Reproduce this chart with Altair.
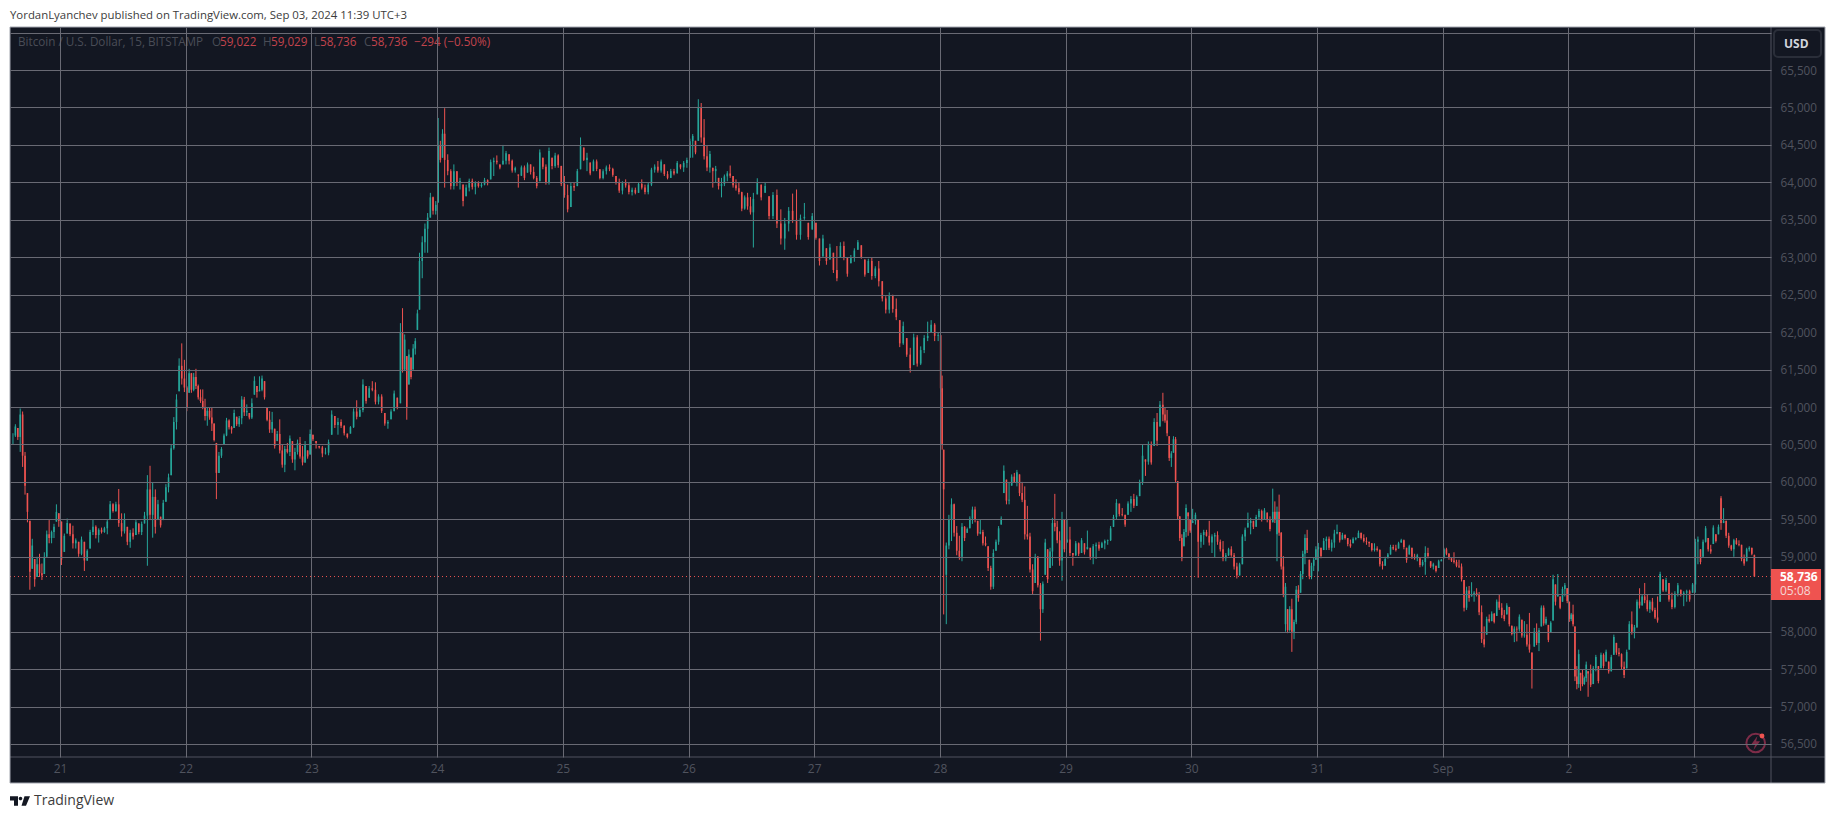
import altair as alt
import pandas as pd

# Each row is (high, low, close) or (high, low, close, open) when the open is not the previous close.
aug20 = [(60650,60500,60620),(60770,60600,60740),(60720,60560,60600),(60980,60400,60900),(60940,60200,60350),(60400,59830,59950),(59850,59460,59600),(59480,58560,58800),(59240,58840,59150),(58970,58600,58700),(59000,58730,58900),(59040,58730,58780),(58910,58690,58750),(59060,58770,59000),(59350,59000,59300),(59490,59180,59250),(59350,59180,59330),(59440,59250,59400),(59700,59470,59600),(59580,59400,59480)]
aug21 = [(59470,58890,58960),(59310,59065,59280),(59510,59310,59450),(59445,59275,59300),(59415,59110,59180),(59245,59110,59220),(59200,59000,59040),(59270,59020,59230),(59200,58810,58950),(59100,58945,59080),(59360,59110,59330),(59500,59290,59400),(59420,59245,59290),(59380,59190,59360),(59390,59310,59330),(59400,59320,59380),(59490,59300,59470),(59745,59490,59700),(59715,59590,59610),(59735,59600,59700),(59905,59400,59450),(59580,59270,59340),(59580,59310,59500),(59400,59155,59200),(59360,59120,59320),(59380,59230,59270),(59490,59290,59460),(59445,59300,59330),(59470,59290,59440),(59600,59445,59550),(60090,58880,59900),(60215,59490,59560),(59990,59255,59800),(59900,59310,59400),(59760,59490,59700),(59535,59390,59420),(59760,59490,59720),(59970,59735,59930),(60110,59860,60060),(60495,60090,60450),(60865,60430,60800),(61170,60700,61100),(61650,61210,61550),(61850,61300,61380),(61630,61200,61260)]
aug22 = [(61280,60945,61000),(61510,61190,61450),(61455,61190,61230),(61455,61210,61400),(61510,61240,61280),(61300,61100,61130),(61235,61055,61080),(61235,60970,61000),(61110,60820,60880),(60990,60750,60950),(60990,60830,60860),(61000,60680,60780),(60780,60540,60560),(60520,59770,60120),(60400,60120,60350),(60465,60320,60440),(60645,60500,60620),(60855,60610,60820),(60835,60700,60730),(60745,60645,60700),(60965,60720,60920),(60870,60745,60770),(60880,60735,60850),(61145,60770,61100),(61135,60880,60930),(61035,60880,60950),(60920,60835,60860),(61115,60840,61050),(61410,61165,61350),(61280,61125,61200),(61410,61210,61230),(61420,61210,61380),(61345,61100,61130),(61000,60810,60830),(60945,60655,60700),(60935,60655,60800),(60710,60445,60480),(60680,60545,60640),(60835,60380,60420),(60500,60190,60230),(60480,60130,60440),(60520,60380,60400),(60620,60345,60580),(60545,60255,60300),(60455,60155,60400),(60565,60365,60520),(60600,60310,60340),(60480,60220,60260),(60545,60255,60500),(60420,60310,60340),(60700,60365,60640)]
aug23 = [(60630,60545,60570),(60545,60445,60520),(60480,60445,60460),(60480,60330,60380),(60455,60365,60390),(60565,60355,60530),(60955,60630,60900),(60880,60720,60760),(60855,60630,60800),(60835,60720,60750),(60755,60620,60650),(60645,60580,60600),(60745,60645,60730),(60980,60720,60940),(61090,60835,60870),(60990,60870,60960),(61370,60930,61300),(61280,61045,61080),(61280,61125,61250),(61345,61210,61230),(61330,61035,61070),(61170,61035,61140),(61170,60920,60950),(60920,60750,60780),(60825,60710,60800),(60970,60835,60940),(61220,60945,61180),(61125,60970,61000),(62120,61050,62000),(62320,61460,61500),(61970,61480,61900),(61680,60830,61000),(61770,61300,61700),(61660,61370,61400),(61840,61500,61780),(61920,61700,61880),(62300,62030,62250),(63060,62300,62950),(63280,62720,63200),(63450,63060,63380),(63590,63060,63530),(63860,63530,63800),(63810,63570,63620),(63750,63570,63700)]
aug24 = [(64860,63730,64500),(64555,64265,64300),(64710,64330,64650),(64990,63930,64300),(64375,64095,64150),(64175,63905,63950),(64240,63905,64150),(64150,63950,63990),(64060,63905,64020),(63970,63680,63750),(63970,63815,63930),(64050,63880,64020),(64050,63905,63940),(64015,63840,63990),(64015,63930,63950),(63995,63930,63970),(64060,63960,64030),(64040,63960,63990),(64305,64040,64270),(64330,64085,64290),(64360,64240,64270),(64240,64175,64200),(64500,64240,64290),(64420,64240,64390),(64375,64240,64290),(64305,64130,64160),(64210,64130,64190),(64105,63930,64090),(64225,64085,64200),(64225,64030,64060),(64265,64130,64240),(64240,64105,64140),(64210,64040,64060),(64085,63920,63950),(64440,64015,64400),(64330,64175,64210),(64240,63970,64000),(64465,63970,64420),(64330,64175,64220),(64395,64195,64360),(64375,64195,64230),(64220,63950,63980)]
aug25 = [(64085,63795,63830),(63970,63600,63640),(63995,63670,63950),(63995,63885,63930),(64180,63950,64150),(64600,64175,64500),(64465,64285,64300),(64395,64150,64330),(64265,64095,64120),(64305,64150,64280),(64305,64150,64180),(64175,64040,64060),(64175,64040,64150),(64225,64105,64200),(64240,64150,64180),(64195,64075,64100),(64085,63970,64000),(64050,63860,63890),(64015,63840,63990),(64040,63930,63960),(63995,63840,63870),(63930,63825,63900),(63930,63840,63860),(64005,63860,63980),(64040,63905,63930),(63970,63840,63870),(63995,63840,63970),(64195,63950,64170),(64240,64130,64210),(64285,64130,64160),(64305,64130,64280),(64240,64085,64110),(64150,64040,64060),(64180,64060,64150),(64180,64095,64120),(64285,64120,64260),(64240,64175,64200),(64285,64140,64260),(64330,64195,64300)]
aug26 = [(64585,64330,64550),(64645,64330,64620),(64555,64375,64400),(65110,64555,65000),(65060,64530,64600),(64845,64305,64350),(64495,64150,64200),(64420,64130,64380),(64195,63930,64150),(64220,63995,64180),(64060,63905,63950),(64060,63800,63980),(64105,63950,64080),(64150,64015,64120),(64225,64060,64090),(64085,63930,63960),(64040,63890,63920),(63995,63840,63870),(63875,63615,63650),(63825,63635,63800),(63860,63635,63680),(63805,63570,63600),(63860,63130,63780),(64055,63840,64000),(63970,63760,63800),(64005,63860,63950),(63815,63505,63550),(63870,63510,63830),(63905,63390,63450),(63640,63170,63250),(63525,63100,63450),(63670,63345,63620),(63850,63460,63500),(63905,63235,63300),(63570,63235,63520),(63725,63500,63540),(63460,63235,63270),(63590,63370,63550)]
aug27 = [(63460,63235,63260),(63250,62890,62950),(63300,63010,63250),(63120,62900,62950),(63180,62970,63130),(63060,62790,62830),(63150,62680,62720),(63200,62990,63150),(63210,62960,63000),(62990,62740,62780),(63030,62920,62990),(63120,62940,63090),(63230,63100,63200),(63160,62980,63000),(62970,62740,62770),(62980,62790,62950),(63000,62700,62750),(62880,62720,62850),(62950,62610,62680),(62680,62410,62450),(62480,62250,62300),(62530,62250,62490),(62500,62260,62310),(62450,62160,62200),(62160,61800,61850),(62140,61830,62080),(61920,61670,61700),(61790,61460,61520),(61980,61560,61930),(61960,61540,61580),(61810,61560,61760),(61960,61720,61920),(62140,61880,61950),(62160,61990,62100),(62120,61880,61950),(61990,61880,61960)]
aug28 = [(61960,61200,61250),(61420,60430,60500),(60430,58230,59900),(59190,58100,59150,58760),(59560,59100,59500),(59780,59210,59700),(59710,59270,59320),(59410,59020,59080),(59280,58960,59000),(59450,58940,59400),(59410,59210,59250),(59390,59320,59370),(59540,59380,59510),(59670,59440,59630),(59670,59460,59500),(59480,59280,59310),(59500,59300,59330),(59360,59150,59180),(59270,59140,59160),(59140,58810,58850),(58880,58560,58600),(59100,58570,59050),(59230,59080,59200),(59410,59160,59380),(59540,59430,59510),(60220,59850,60150),(60030,59700,59750),(60000,59700,59760),(60100,59950,60070),(60120,59990,60000),(60160,59940,60130),(60100,59810,59850),(60000,59730,59760),(59940,59230,59300),(59680,59230,59270),(59320,58790,58830),(58900,58500,58540),(59040,58650,59000),(59010,58590,58620),(58650,57880,58300),(58670,58250,58640,58300),(59240,58760,59190),(59100,58650,58700),(59120,58850,59070),(59520,58880,59450),(59840,59340,59400),(59480,59180,59220),(59340,58880,58950),(59600,58680,59500),(59500,59060,59100)]
aug29 = [(59500,59190,59230),(59400,59010,59050),(59050,58880,59020),(59210,59010,59180),(59190,59010,59040),(59250,59050,59220),(59180,59030,59060),(59350,59100,59130),(59120,58960,59000),(59170,58900,59140),(59190,58970,59160),(59200,59080,59110),(59200,59120,59180),(59230,59100,59210),(59230,59160,59220),(59410,59210,59380),(59560,59400,59530),(59770,59500,59720),(59710,59540,59570),(59650,59540,59560),(59560,59400,59430),(59740,59560,59710),(59810,59600,59770),(59840,59650,59680),(59820,59680,59800),(60030,59810,60000),(60500,59960,60350),(60300,60080,60270),(60540,60230,60500),(60540,60230,60260),(60850,60480,60800),(60920,60480,60550),(61080,60740,61030),(61190,60810,60900),(61000,60790,60820),(60960,60610,60650),(60610,60280,60320),(60410,60200,60380),(60610,60390,60570),(60600,59990,60020),(60010,59500,59540),(59540,59210,59250),(59300,58940,58980),(59370,59140,59330),(59700,59260,59650),(59590,59280,59540),(59500,59320,59350)]
aug30 = [(59640,59450,59480),(59590,59430,59560),(59500,58720,59200),(59320,59120,59290),(59360,59160,59330),(59360,59270,59280),(59480,59150,59190),(59300,59050,59270),(59320,58990,59290),(59340,59160,59200),(59230,59070,59100),(59210,58940,58980),(59050,58940,59020),(59120,59010,59100),(59140,59000,59020),(59050,58830,58870),(58920,58710,58750),(58920,58750,58900),(59300,58900,59270),(59390,59210,59360),(59590,59390,59450),(59520,59300,59480),(59480,59370,59400),(59560,59400,59530),(59640,59500,59610),(59630,59470,59500),(59650,59500,59620),(59590,59460,59490),(59540,59340,59370),(59910,59460,59600),(59740,59450,59500),(59670,58940,59600,59300),(59830,59280,59320),(59330,58830,58870),(59010,58460,58500),(58650,58000,58600,58100),(58300,57980,58020),(58340,58000,58300),(58440,57730,58000),(58160,57900,58130),(58610,58100,58560),(58620,58400,58450),(58810,58520,58770),(59080,58700,59040),(59300,58900,59250),(59360,59050,59090),(58960,58700,58740),(58920,58700,58880),(58990,58810,58960),(59140,58960,59100)]
aug31 = [(59185,58805,59130),(59120,58980,59010),(59250,59090,59210),(59270,59090,59240),(59270,59090,59120),(59230,59070,59190),(59360,59120,59310),(59430,59300,59330),(59330,59190,59220),(59320,59230,59290),(59300,59230,59250),(59250,59140,59170),(59230,59120,59140),(59260,59180,59240),(59260,59220,59250),(59350,59250,59320),(59320,59230,59250),(59300,59190,59210),(59260,59160,59200),(59200,59130,59180),(59180,59070,59090),(59180,59070,59110),(59140,59070,59090),(59100,58870,58900),(58940,58830,58880),(59000,58880,58970),(59050,58980,59030),(59160,59030,59130),(59160,59090,59110),(59160,59070,59090),(59200,59110,59180),(59240,59190,59220),(59230,59100,59130),(59120,58920,58960),(59160,59030,59140),(59120,58970,59000),(59040,58960,58980),(59040,58940,59020),(58980,58860,58890),(58960,58870,58930),(59140,58760,59050),(59120,58980,59010),(58940,58850,58870),(58920,58830,58900),(58880,58790,58810),(58960,58850,58940),(58970,58940,58960)]
sep01 = [(59120,58980,59100),(59120,59020,59040),(59050,58960,58990),(58980,58930,58950),(59060,58910,58930),(58960,58860,58880),(58960,58850,58870),(58910,58670,58700),(58690,58270,58320),(58600,58290,58550),(58610,58400,58450),(58660,58470,58500),(58540,58400,58520),(58580,58470,58490),(58530,58220,58260),(58350,57850,57900),(58070,57790,57830),(58200,57960,58170),(58230,58120,58140),(58270,58140,58240),(58250,58110,58130),(58430,58210,58400),(58490,58290,58320),(58380,58180,58220),(58290,58140,58170),(58380,58230,58350),(58330,58070,58100),(58080,57950,57970),(58070,57860,58040),(58070,57870,58030),(58230,58000,58200),(58160,57920,57950),(58140,57920,57960),(58100,57800,57830),(58250,57720,57760),(57720,57240,57500),(58050,57800,58000),(58110,57820,57850),(58050,57740,58020),(58350,58070,58320),(58350,58080,58110),(58200,58090,58170),(58090,57860,57890),(58140,57990,58120),(58760,58150,58700),(58630,58350,58400),(58770,58470,58500),(58470,58300,58320),(58600,58400,58570),(58650,58470,58620),(58580,58380,58410)]
sep02 = [(58400,58130,58170),(58250,58140,58230),(58360,58070,58100),(58070,57340,57400),(57540,57230,57300),(57760,57250,57700),(57450,57210,57420),(57490,57270,57300),(57400,57290,57380),(57600,57330,57560),(57470,57130,57440),(57560,57260,57290),(57540,57300,57510),(57690,57470,57660),(57540,57310,57340),(57720,57510,57690),(57710,57510,57540),(57760,57600,57730),(57600,57440,57470),(57690,57470,57660),(57960,57690,57930),(57850,57690,57720),(57780,57670,57700),(57710,57490,57530),(57600,57380,57420),(57760,57510,57730),(58140,57760,58100),(58270,57960,58000),(58090,57910,58060),(58430,58050,58400),(58580,58310,58350),(58490,58350,58470),(58650,58380,58420),(58490,58270,58300),(58420,58250,58400),(58450,58270,58290),(58320,58170,58190),(58470,58120,58150),(58800,58400,58770),(58700,58530,58550),(58720,58530,58690),(58650,58400,58430),(58520,58300,58330),(58540,58310,58510),(58650,58470,58620),(58560,58470,58490),(58540,58340,58520),(58560,58400,58540),(58560,58400,58430),(58650,58520,58630)]
sep03 = [(59240,58520,59200),(59270,58900,59230),(59100,58900,58930),(59230,59000,59200),(59410,59190,59380),(59250,59070,59100),(59160,59040,59070),(59420,59170,59390),(59300,59190,59210),(59430,59300,59400),(59810,59360,59450,59780),(59650,59450,59480),(59480,59250,59280),(59320,59120,59150),(59160,59080,59100),(59240,59000,59220),(59250,59160,59170),(59220,59140,59160),(59160,58940,58970),(59030,58880,58910),(59120,58940,59100),(59140,59070,59120),(59120,59020,59040),(59029,58736,58736,59022)]

sessions = [
    (20.616, 0.384, aug20, {}),
    (21, 1, aug21, {30: .695}),
    (22, 1, aug22, {13: .244}),
    (23, 1, aug23, {28: .708, 37: .86}),
    (24, 1, aug24, {3: .06}),
    (25, 1, aug25, {}),
    (26, 1, aug26, {3: .078, 22: .516}),
    (27, 1, aug27, {}),
    (28, 1, aug28, {2: .03, 39: .80}),
    (29, 1, aug29, {33: .774, 39: .875}),
    (30, 1, aug30, {29: .648, 38: .80}),
    (31, 1, aug31, {}),
    (32, 1, sep01, {35: .71}),
    (33, 1, sep02, {10: .157, 38: .73}),
    (34, 0.49, sep03, {}),
]

day_ticks = list(range(21, 35))
day_labels = ["21","22","23","24","25","26","27","28","29","30","31","Sep","2","3"]
price_ticks = list(range(56500, 66500, 500))
last_price = 58736

title_text = "YordanLyanchev published on TradingView.com, Sep 03, 2024 11:39 UTC+3"
symbol_text = "Bitcoin / U.S. Dollar, 15, BITSTAMP"
ohlc_text = [("O","59,022"),("H","59,029"),("L","58,736"),("C","58,736")]
change_text = "\u2212294 (\u22120.50%)"
tag_price = "58,736"
tag_time = "05:08"

TEAL, RED = "#26a69a", "#ef5350"
BG = "#131722"
GRID = "#696a74"
DIM = "#50535e"
FONT = "Open Sans"
W, H = 1761, 730
OX, OY = 10, 27

def bar_times(start, span, n, anchors):
    knots = [(-0.5, 0.0)] + sorted(anchors.items()) + [(n - 0.5, span)]
    out = []
    for i in range(n):
        for (a, fa), (b, fb) in zip(knots, knots[1:]):
            if a <= i <= b:
                out.append(start + fa + (i - a) * (fb - fa) / (b - a))
                break
    return out

rows, prev = [], None
for start, span, bars, anchors in sessions:
    for t, r in zip(bar_times(start, span, len(bars), anchors), bars):
        hi, lo, cl = r[:3]
        op = r[3] if len(r) > 3 else (cl if prev is None else min(max(prev, lo), hi))
        rows.append(dict(t=t, high=hi, low=lo, open=op, close=cl, dir="up" if cl >= op else "down"))
        prev = cl
df = pd.DataFrame(rows)

x_enc = alt.X("t:Q", title=None,
              scale=alt.Scale(domain=[20.602, 34.612], nice=False, zero=False),
              axis=alt.Axis(values=day_ticks, labelExpr="[" + ",".join(f"'{s}'" for s in day_labels) + "][datum.value-21]",
                            grid=True, gridColor=GRID, gridWidth=1, domain=False, ticks=False,
                            labelColor=DIM, labelFontSize=12, labelFont=FONT, labelPadding=6,
                            labelFlush=False, labelOverlap=False, zindex=1))
y_scale = alt.Scale(domain=[56326, 66075], nice=False, zero=False)
y_axis = alt.Axis(values=price_ticks, orient="right",
                  labelExpr="(datum.value>65500||datum.value==58500)?'':format(datum.value,',')",
                  grid=True, gridColor=GRID, gridWidth=1, domain=False, ticks=False,
                  labelColor=DIM, labelFontSize=11.7, labelFont=FONT, labelPadding=9,
                  labelOverlap=False, zindex=1)
color_enc = alt.Color("dir:N", scale=alt.Scale(domain=["up", "down"], range=[TEAL, RED]), legend=None)

one = pd.DataFrame({"a": [0]})

def box(x0, y0, x1, y1, **kw):
    return alt.Chart(one).mark_rect(**kw).encode(
        x=alt.value(x0 - OX), x2=alt.value(x1 - OX), y=alt.value(y0 - OY), y2=alt.value(y1 - OY))

def line(x0, y0, x1, y1, color):
    return alt.Chart(one).mark_rule(color=color, strokeWidth=1).encode(
        x=alt.value(x0 - OX), x2=alt.value(x1 - OX), y=alt.value(y0 - OY), y2=alt.value(y1 - OY))

def label(s, x, y, color, size=11.7, weight="normal", align="left", font=FONT):
    return alt.Chart(one).mark_text(color=color, fontSize=size, fontWeight=weight, align=align,
                                    baseline="middle", font=font).encode(
        x=alt.value(x - OX), y=alt.value(y - OY), text=alt.value(s))

def glyph(path, x, y, size, **kw):
    return alt.Chart(one).mark_point(shape=path, size=size, **kw).encode(
        x=alt.value(x - OX), y=alt.value(y - OY))

strips = [box(1771, 27, 1825, 783, fill=BG), box(10, 757, 1771, 783, fill=BG)]

wicks = alt.Chart(df).mark_rule(strokeWidth=1).encode(
    x=x_enc, y=alt.Y("low:Q", title=None, scale=y_scale, axis=y_axis), y2="high:Q", color=color_enc)
bodies = alt.Chart(df).mark_rule(strokeWidth=1.6).encode(
    x=x_enc, y=alt.Y("open:Q", title=None, scale=y_scale, axis=y_axis), y2="close:Q", color=color_enc)

price_line = alt.Chart(pd.DataFrame({"p": [last_price]})).mark_rule(
    color=RED, strokeWidth=1, strokeDash=[1, 3]).encode(
    y=alt.Y("p:Q", title=None, scale=y_scale, axis=y_axis), x=alt.value(0), x2=alt.value(W))

overlay = [
    line(1771, 27, 1771, 783, DIM),
    line(10, 757, 1825, 757, DIM),
    box(10, 27, 1825, 783, fill="transparent", stroke="#a3a6af", strokeWidth=1),
    box(1771, 569, 1821, 600, fill=RED),
    label(tag_price, 1780, 577, "#ffffff", 12, "bold"),
    label(tag_time, 1780, 591, "#f4d6d5", 12),
    box(1774, 30, 1821, 57, fill=BG, stroke="#2a2e39", strokeWidth=2, cornerRadius=4),
    label("USD", 1784, 44, "#d1d4dc", 12, "bold"),
    label(title_text, 10, 15.5, "#3c3c3c", 11.4),
    label(symbol_text, 18, 42, "#4a4d57"),
]
ohlc_x = [(212, 220), (263, 271), (314, 320), (364, 371)]
for (letter, value), (lx, vx) in zip(ohlc_text, ohlc_x):
    overlay += [label(letter, lx, 42, "#4a4d57"), label(value, vx, 42, "#c2444d")]
overlay += [
    label(change_text, 414, 42, "#c2444d"),
    glyph("circle", 1755.7, 743, 346, filled=False, color="#7d2c48", strokeWidth=2, opacity=1),
    glyph("M.2 -.8L-.5 .15H-.05L-.25 .8L.5 -.2H.05Z", 1755.7, 743, 300, filled=True, color="#7d2c48", opacity=1),
    glyph("circle", 1762, 736, 24, filled=True, color=RED, opacity=1),
    glyph("M-1 -.47H-.2V.47H-.6V-.05H-1ZM.23 -.25A.18 .18 0 1 1 -.13 -.25A.18 .18 0 1 1 .23 -.25ZM.45 -.47H1L.6 .47H.15Z",
          20, 801, 400, filled=True, color="#131722", opacity=1),
    label("TradingView", 34, 801, "#3c3c3c", 14),
]

chart = alt.layer(*strips, wicks, bodies, price_line, *overlay).properties(
    width=W, height=H,
    background="#ffffff",
    autosize=alt.AutoSizeParams(type="none"),
    padding={"left": 2, "top": 19, "right": 56, "bottom": 53},
).configure_view(fill=BG, stroke=None)

chart.save("out.html", embed_options={"renderer": "svg", "actions": False})
